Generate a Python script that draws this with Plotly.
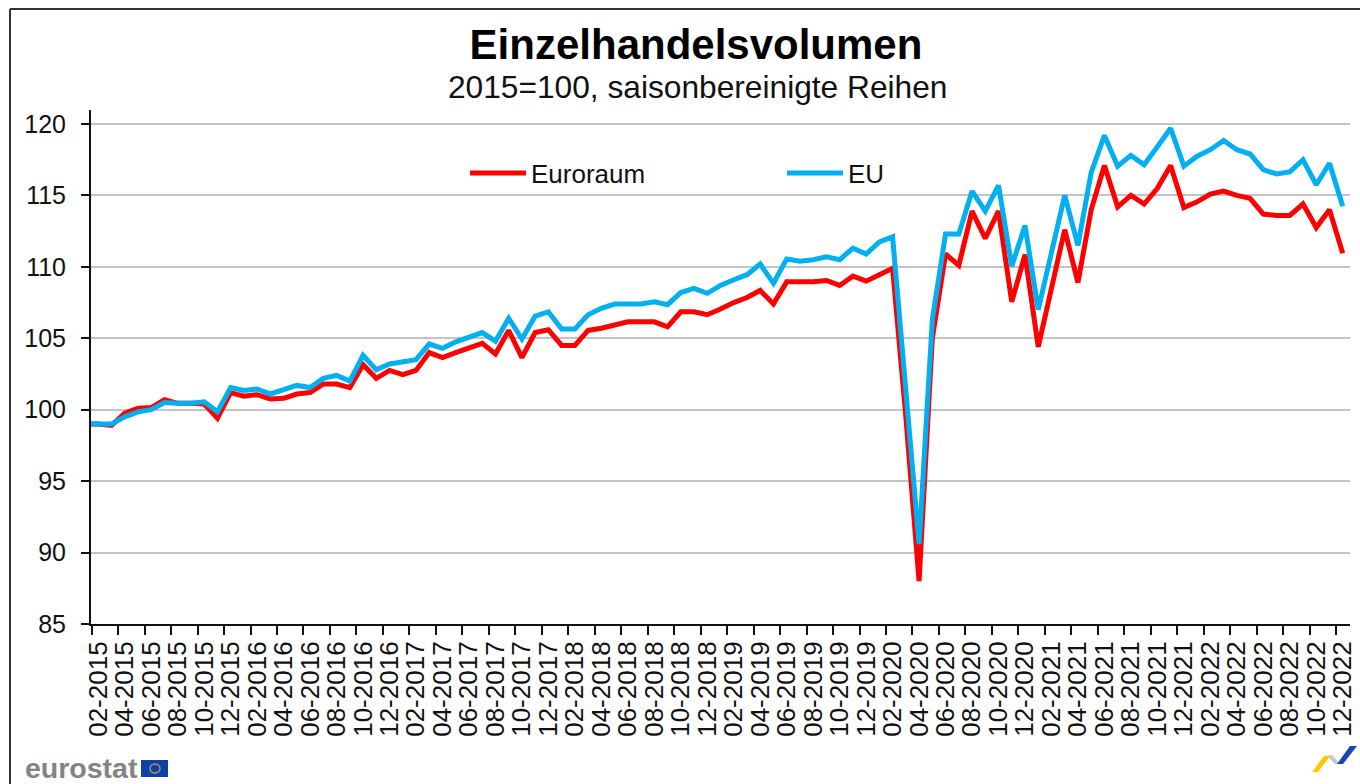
import plotly.graph_objects as go

years = range(2015, 2023)
months = [f"{m:02d}-{y}" for y in years for m in range(1, 13)]
y_ticks = [85, 90, 95, 100, 105, 110, 115, 120]

euroraum = [99.0, 99.0, 98.9, 99.75, 100.1, 100.15, 100.7, 100.45, 100.45, 100.4, 99.4, 101.2, 100.95,
            101.05, 100.75, 100.8, 101.1, 101.2, 101.8, 101.8, 101.55, 103.15, 102.2, 102.75, 102.45,
            102.75, 104.0, 103.65, 104.0, 104.3, 104.65, 103.9, 105.55, 103.65, 105.4, 105.6, 104.5,
            104.5, 105.55, 105.7, 105.9, 106.15, 106.15, 106.15, 105.8, 106.85, 106.85, 106.65, 107.05,
            107.5, 107.85, 108.35, 107.4, 108.95, 108.95, 108.95, 109.05, 108.7, 109.35, 109.0, 109.45,
            109.9, 99.5, 88.0, 105.0, 110.9, 110.1, 113.9, 112.0, 113.9, 107.55, 110.85, 104.4, 108.7,
            112.6, 108.9, 114.0, 117.1, 114.2, 115.0, 114.4, 115.5, 117.1, 114.15, 114.55, 115.1, 115.3,
            115.0, 114.8, 113.7, 113.6, 113.6, 114.4, 112.75, 114.0, 110.95]
eu = [99.0, 99.0, 99.0, 99.5, 99.85, 100.0, 100.5, 100.45, 100.45, 100.55, 99.85, 101.55, 101.35,
      101.45, 101.1, 101.4, 101.7, 101.55, 102.2, 102.4, 102.0, 103.8, 102.8, 103.2, 103.35,
      103.5, 104.6, 104.3, 104.75, 105.05, 105.4, 104.8, 106.4, 104.95, 106.55, 106.85, 105.65,
      105.65, 106.65, 107.1, 107.4, 107.4, 107.4, 107.55, 107.35, 108.2, 108.5, 108.15, 108.7,
      109.1, 109.45, 110.2, 108.85, 110.55, 110.4, 110.5, 110.7, 110.5, 111.3, 110.9, 111.75,
      112.1, 101.0, 90.6, 106.3, 112.3, 112.3, 115.3, 113.9, 115.7, 110.05, 112.9, 107.0, 111.0,
      115.0, 111.5, 116.6, 119.2, 117.05, 117.8, 117.15, 118.4, 119.7, 117.05, 117.75, 118.2, 118.85,
      118.2, 117.9, 116.8, 116.5, 116.65, 117.5, 115.75, 117.25, 114.25]

L, R, T, B = 91, 1350, 110, 624
W, H = 1360, 784
cats = months[:len(eu)]


def px(x):
    return (x - L) / (R - L)


def py(y):
    return (B - y) / (B - T)


def path(points):
    return "M " + " L ".join(f"{px(a):.5f},{py(b):.5f}" for a, b in points) + " Z"


fig = go.Figure()
fig.add_trace(go.Scatter(x=cats, y=euroraum, name="Euroraum", mode="lines",
                         line=dict(color="#FF0000", width=5)))
fig.add_trace(go.Scatter(x=cats, y=eu, name="EU", mode="lines",
                         line=dict(color="#00B0F0", width=5)))

shapes = [
    dict(type="line", xref="paper", yref="paper", x0=px(10), x1=px(10), y0=py(9), y1=py(784),
         line=dict(color="#333333", width=2)),
    dict(type="line", xref="paper", yref="paper", x0=px(10), x1=px(1360), y0=py(9), y1=py(9),
         line=dict(color="#333333", width=2)),
    dict(type="rect", xref="paper", yref="paper", x0=px(141), x1=px(168), y0=py(777), y1=py(760),
         fillcolor="#0F3FA8", line=dict(width=0)),
    dict(type="circle", xref="paper", yref="paper", x0=px(150), x1=px(160), y0=py(773), y1=py(764),
         fillcolor="rgba(0,0,0,0)", line=dict(color="#A89A50", width=1.5)),
    dict(type="path", xref="paper", yref="paper", path=path([(1312, 772), (1324, 756), (1331, 755), (1318, 772)]),
         fillcolor="#FFC60B", line=dict(width=0)),
    dict(type="path", xref="paper", yref="paper", path=path([(1328, 757), (1332, 755), (1340, 764), (1335, 764)]),
         fillcolor="#C4C8CC", line=dict(width=0)),
    dict(type="path", xref="paper", yref="paper", path=path([(1337, 764), (1350, 746), (1357, 746), (1343, 764)]),
         fillcolor="#1546B8", line=dict(width=0)),
]

annotations = [
    dict(text="2015=100, saisonbereinigte Reihen", xref="paper", yref="paper", x=px(697), y=py(87),
         xanchor="center", yanchor="middle", showarrow=False,
         font=dict(family="Liberation Sans", size=31.7, color="#111111")),
    dict(text="<b>eurostat</b>", xref="paper", yref="paper", x=px(23), y=py(768),
         xanchor="left", yanchor="middle", showarrow=False,
         font=dict(family="Liberation Sans", size=28.5, color="#808488")),
]

fig.update_layout(
    width=W, height=H, autosize=False,
    margin=dict(l=L, r=W - R, t=T, b=H - B, pad=0),
    paper_bgcolor="white", plot_bgcolor="white",
    font=dict(family="Liberation Sans", color="#111111"),
    title=dict(text="<b>Einzelhandelsvolumen</b>", x=696 / W, xanchor="center", y=1 - 44 / H, yanchor="middle",
               font=dict(family="Liberation Sans", size=42, color="#000000")),
    showlegend=True,
    legend=dict(orientation="h", x=px(465), y=py(173), xanchor="left", yanchor="middle",
                itemwidth=56, entrywidth=246, entrywidthmode="pixels", bgcolor="rgba(0,0,0,0)",
                font=dict(family="Liberation Sans", size=26, color="#111111"), tracegroupgap=0),
    xaxis=dict(type="category", categoryorder="array", categoryarray=cats,
               range=[0.45, 95.55], tickson="boundaries", tick0=1, dtick=2, tickmode="linear",
               tickangle=-90, ticks="outside", ticklen=9, tickwidth=2, tickcolor="#111111",
               showline=True, linecolor="#111111", linewidth=2, showgrid=False, automargin=False,
               ticklabelstandoff=5,
               tickfont=dict(family="Liberation Sans", size=26, color="#111111")),
    yaxis=dict(range=[85, 120.98], tickvals=y_ticks, ticks="outside", ticklen=8, tickwidth=2,
               tickcolor="#111111", showline=True, linecolor="#111111", linewidth=2,
               showgrid=True, gridcolor="#C4C4C4", gridwidth=2, zeroline=False, automargin=False,
               ticklabelstandoff=10,
               tickfont=dict(family="Liberation Sans", size=25, color="#111111")),
    shapes=shapes, annotations=annotations,
)

fig.write_html("out.html", post_script="document.body.style.margin='0';document.documentElement.style.overflow='hidden';",
               config={"displayModeBar": False})
